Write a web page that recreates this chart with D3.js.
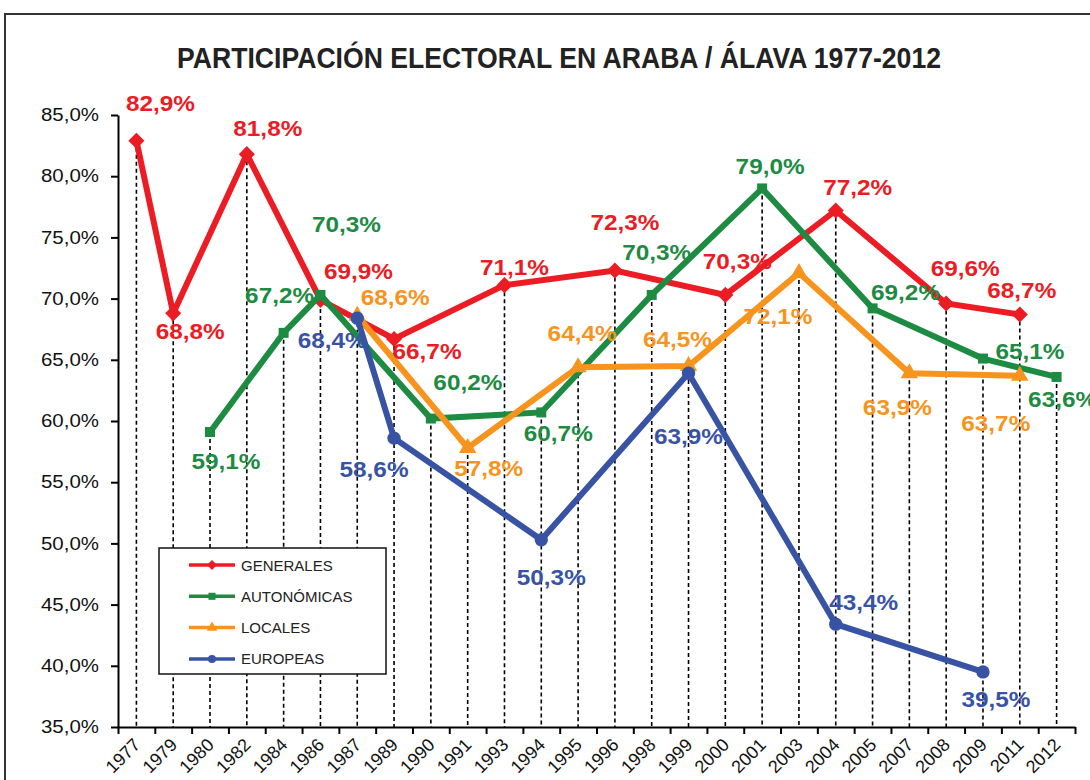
<!DOCTYPE html>
<html>
<head>
<meta charset="utf-8">
<script src="https://cdn.jsdelivr.net/npm/d3@7"></script>
<style>
  body { margin: 0; background: #fff; }
  text { font-family: "Liberation Sans", Arial, sans-serif; }
</style>
</head>
<body>
<script>
// Election years (categories on the x axis)
const years = ["1977","1979","1980","1982","1984","1986","1987","1989","1990","1991",
  "1993","1994","1995","1996","1998","1999","2000","2001","2003","2004",
  "2005","2007","2008","2009","2011","2012"];

// Turnout in %, null where there was no election of that kind
const generales   = [82.9, 68.8, null, 81.8, null, 69.9, null, 66.7, null, null,
  71.1, null, null, 72.3, null, null, 70.3, null, null, 77.2,
  null, null, 69.6, null, 68.7, null];
const autonomicas = [null, null, 59.1, null, 67.2, 70.3, null, null, 60.2, null,
  null, 60.7, null, null, 70.3, null, null, 79.0, null, null,
  69.2, null, null, 65.1, null, 63.6];
const locales     = [null, null, null, null, null, null, 68.6, null, null, 57.8,
  null, null, 64.4, null, null, 64.5, null, null, 72.1, null,
  null, 63.9, null, null, 63.7, null];
const europeas    = [null, null, null, null, null, null, 68.4, 58.6, null, null,
  null, 50.3, null, null, null, 63.9, null, null, null, 43.4,
  null, null, null, 39.5, null, null];

const seriesNames = ["GENERALES", "AUTONÓMICAS", "LOCALES", "EUROPEAS"];
const yTicks = [35, 40, 45, 50, 55, 60, 65, 70, 75, 80, 85];

const seriesValues = [generales, autonomicas, locales, europeas];
const colors = ["#EC1C24", "#1E8B43", "#F7941E", "#3953A4"];
const shapes = ["diamond", "square", "triangle", "circle"];

// where each value label sits relative to its point (dx, dy), hand placed like the original
const labelOffsets = [
  [[24,-37],[17,18],[21,-26],[38,-28],[33,13],[10,-18],[10,-48],[12,-33],[22,-23],[19,-35],[2,-24]],
  [[16,29],[-4,-37],[26,-70],[37,-36],[17,21],[5,-42],[8,-22],[33,-16],[47,-7],[6,23]],
  [[38,-18],[21,21],[4,-34],[-11,-26],[-21,44],[-12,34],[-24,48]],
  [[-25,22],[-20,31],[10,38],[0,63],[28,-22],[13,28]]
];

const W = 1090, H = 780;
const plot = {left: 118, right: 1075, top: 115, bottom: 727};

const comma = d3.formatLocale({decimal: ",", thousands: ".", grouping: [3], currency: ["", " €"]}).format(".1f");
const pct = v => comma(v) + "%";

const svg = d3.select("body").append("svg")
  .attr("width", W)
  .attr("height", H);

// outer frame
svg.append("rect")
  .attr("x", 5).attr("y", 14)
  .attr("width", 1200).attr("height", 900)
  .attr("fill", "none")
  .attr("stroke", "#333")
  .attr("stroke-width", 2);

// title, squeezed a bit like the condensed face of the original
svg.append("text")
  .attr("x", 559).attr("y", 68)
  .attr("text-anchor", "middle")
  .attr("font-size", 29)
  .attr("font-weight", "bold")
  .attr("fill", "#222")
  .attr("textLength", 764)
  .attr("lengthAdjust", "spacingAndGlyphs")
  .text("PARTICIPACIÓN ELECTORAL EN ARABA / ÁLAVA 1977-2012");

const x = d3.scaleBand().domain(years).range([plot.left, plot.right]).padding(0);
const y = d3.scaleLinear().domain([35, 85]).range([plot.bottom, plot.top]);
const cx = yr => x(yr) + x.bandwidth() / 2;

// drop lines from the highest point of every year down to the axis
const tops = years.map((yr, i) => ({yr, v: d3.max(seriesValues, s => s[i])}));
svg.append("g")
  .selectAll("line")
  .data(tops.filter(d => d.v != null))
  .join("line")
  .attr("x1", d => cx(d.yr)).attr("x2", d => cx(d.yr))
  .attr("y1", d => y(d.v)).attr("y2", plot.bottom)
  .attr("stroke", "#000")
  .attr("stroke-width", 1.6)
  .attr("stroke-dasharray", "4,3");

// y axis
const yAxis = svg.append("g")
  .attr("transform", `translate(${plot.left},0)`)
  .call(d3.axisLeft(y).tickValues(yTicks).tickFormat(pct).tickSize(7).tickSizeOuter(0).tickPadding(12));
yAxis.select(".domain").attr("stroke-width", 2);
yAxis.selectAll(".tick line").attr("stroke-width", 2);
yAxis.selectAll(".tick text")
  .attr("font-size", 18)
  .attr("fill", "#111")
  .attr("font-family", "'Liberation Sans', Arial, sans-serif")
  .attr("textLength", 58)
  .attr("lengthAdjust", "spacingAndGlyphs");

// x axis: tick marks sit on the category boundaries
const bound = d3.scaleLinear().domain([0, years.length]).range([plot.left, plot.right]);
const xTickAxis = svg.append("g")
  .attr("transform", `translate(0,${plot.bottom})`)
  .call(d3.axisBottom(bound).tickValues(d3.range(years.length + 1)).tickFormat("").tickSize(7).tickSizeOuter(0));
xTickAxis.select(".domain").attr("stroke-width", 2);
xTickAxis.selectAll(".tick line").attr("stroke-width", 2);

// year labels, turned 45 degrees
const xLabels = svg.append("g")
  .attr("transform", `translate(0,${plot.bottom})`)
  .call(d3.axisBottom(x).tickSize(0).tickPadding(0));
xLabels.select(".domain").remove();
xLabels.selectAll(".tick text")
  .attr("font-size", 18)
  .attr("fill", "#111")
  .attr("font-family", "'Liberation Sans', Arial, sans-serif")
  .attr("text-anchor", "end")
  .attr("dy", null)
  .attr("y", 0)
  .attr("transform", "translate(5,19) rotate(-45)");

function symbolPath(shape, size) {
  if (shape === "triangle") return d3.symbol(d3.symbolTriangle, size)();
  if (shape === "circle") return d3.symbol(d3.symbolCircle, size)();
  return d3.symbol(d3.symbolSquare, size)();
}
const markerSize = {diamond: 130, square: 100, triangle: 130, circle: 140};

const line = d3.line().x(d => cx(d.yr)).y(d => y(d.v));

const series = seriesValues.map((vals, k) => ({
  name: seriesNames[k],
  color: colors[k],
  shape: shapes[k],
  points: years.map((yr, i) => ({yr, v: vals[i]})).filter(d => d.v != null)
}));

// lines + markers, later series on top
series.forEach(s => {
  const g = svg.append("g");
  g.append("path")
    .attr("d", line(s.points))
    .attr("fill", "none")
    .attr("stroke", s.color)
    .attr("stroke-width", 6)
    .attr("stroke-linejoin", "miter");
  g.selectAll("path.mk")
    .data(s.points)
    .join("path")
    .attr("class", "mk")
    .attr("d", symbolPath(s.shape, markerSize[s.shape]))
    .attr("transform", d => `translate(${cx(d.yr)},${y(d.v)})` + (s.shape === "diamond" ? " rotate(45)" : ""))
    .attr("fill", s.color);
});

// value labels
series.forEach((s, k) => {
  svg.append("g")
    .selectAll("text")
    .data(s.points)
    .join("text")
    .attr("x", (d, i) => cx(d.yr) + labelOffsets[k][i][0])
    .attr("y", (d, i) => y(d.v) + labelOffsets[k][i][1])
    .attr("text-anchor", "middle")
    .attr("dominant-baseline", "central")
    .attr("font-size", 22)
    .attr("font-weight", "bold")
    .attr("fill", s.color)
    .attr("textLength", 69)
    .attr("lengthAdjust", "spacingAndGlyphs")
    .text(d => pct(d.v));
});

// legend
const legend = svg.append("g").attr("transform", "translate(159,548)");
legend.append("rect")
  .attr("width", 227).attr("height", 126)
  .attr("fill", "#fff")
  .attr("stroke", "#111")
  .attr("stroke-width", 1.5);
const items = legend.selectAll("g.item")
  .data(series)
  .join("g")
  .attr("class", "item")
  .attr("transform", (d, i) => `translate(0,${17 + i * 31.3})`);
items.append("line")
  .attr("x1", 30).attr("x2", 76)
  .attr("stroke", d => d.color)
  .attr("stroke-width", 3.5);
items.append("path")
  .attr("d", d => symbolPath(d.shape, 50))
  .attr("transform", d => "translate(53,0)" + (d.shape === "diamond" ? " rotate(45)" : ""))
  .attr("fill", d => d.color);
items.append("text")
  .attr("x", 82)
  .attr("dominant-baseline", "central")
  .attr("font-size", 15)
  .attr("fill", "#222")
  .text(d => d.name);
</script>
</body>
</html>
